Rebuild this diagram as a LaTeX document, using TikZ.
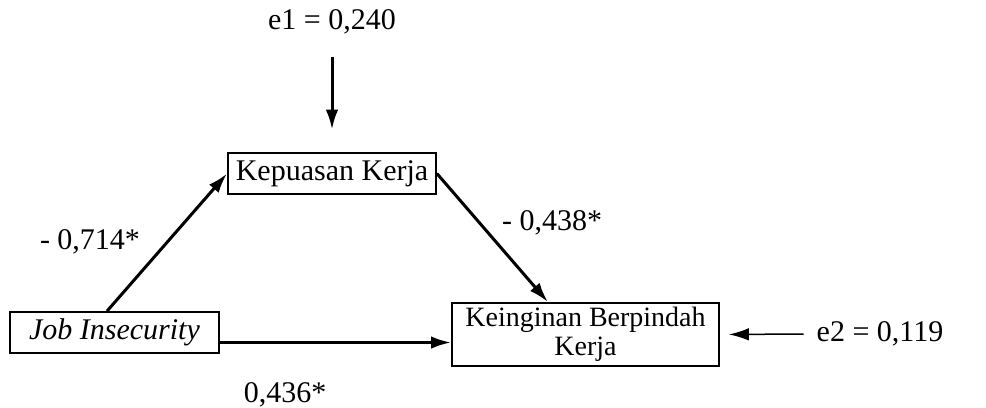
\documentclass[tikz,border=0pt]{standalone}
\usepackage{fontspec}
\setmainfont{Liberation Serif}
\usetikzlibrary{arrows.meta}

\begin{document}
\begin{tikzpicture}[thick,x=0.4pt,y=-0.4pt,font=\fontsize{12pt}{14pt}\selectfont,
  var/.style={draw,line width=0.7pt,inner sep=0pt,minimum height=16.4pt},
  arr/.style={line width=1.2pt,-{Latex[length=8pt,width=5pt]}}]
\useasboundingbox (0,0) rectangle (986,407);

\node[var,minimum width=83.2pt] (kep) at (332,173.5) {Kepuasan Kerja};
\node[var,minimum width=83.6pt] (job) at (114.5,332.5) {\itshape Job Insecurity};
\node[var,minimum width=106.8pt,minimum height=25.2pt,align=center,
  font=\fontsize{11.2pt}{11.6pt}\selectfont] (kein) at (585.5,334.5) {Keinginan Berpindah\\Kerja};

\node (e1) at (332,22) {e1 = 0,240};
\node (e2) at (880,334) {e2 = 0,119};

% paths
\draw[arr] ([xshift=-3pt]job.north) -- (kep.west);
\draw[arr] (kep.east) -- ([xshift=-15pt]kein.north);
\draw[arr] ([yshift=-4pt]job.east) -- ([yshift=-4pt]job.east -| kein.west);
\draw[arr,shorten <=5.5pt,shorten >=9pt] (e1.south) -- (kep.north);
\draw[arr,line width=0.6pt,shorten <=1.5pt,shorten >=3.6pt] (e2.west) -- (kein.east);

\node (a) at (90,242) {- 0,714*};
\node (b) at (552,223) {- 0,438*};
\node (c) at (285,395) {0,436*};
\end{tikzpicture}
\end{document}
